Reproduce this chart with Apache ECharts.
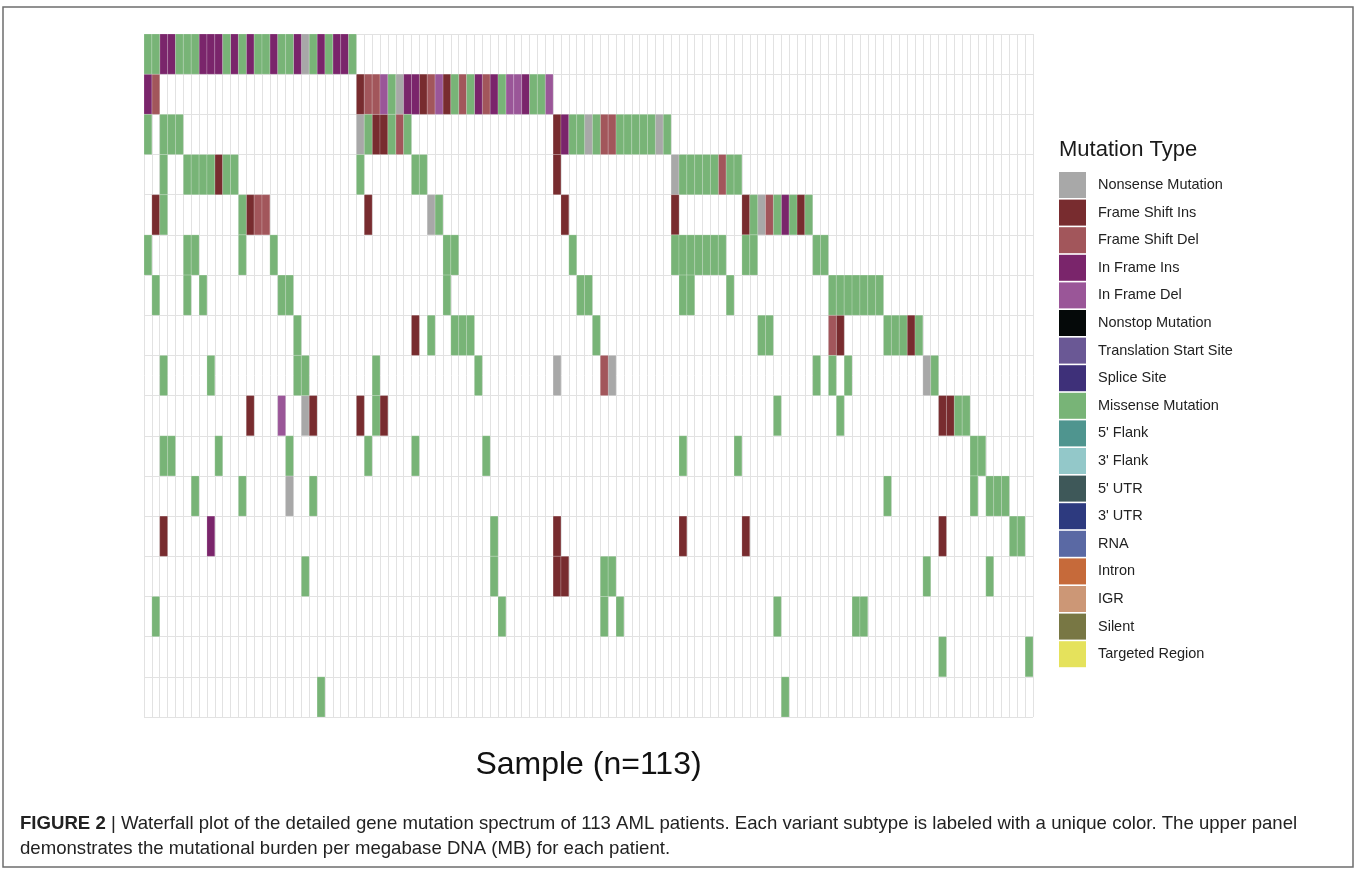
<!DOCTYPE html>
<html>
<head>
<meta charset="utf-8">
<script src="https://cdn.jsdelivr.net/npm/echarts@6/dist/echarts.min.js"></script>
<style>
html,body{margin:0;padding:0;background:#fff;}
#chart{width:1357px;height:870px;}
</style>
</head>
<body>
<div id="chart"></div>
<script>
// ---------------- DATA ----------------
const sampleCount = 113;
const sampleLabels = Array.from({length: sampleCount}, (_, i) => 'S' + (i + 1));
const geneLabels = ['G1','G2','G3','G4','G5','G6','G7','G8','G9','G10','G11','G12','G13','G14','G15','G16','G17'];

const typeNames = ['Nonsense Mutation','Frame Shift Ins','Frame Shift Del','In Frame Ins','In Frame Del',
  'Nonstop Mutation','Translation Start Site','Splice Site','Missense Mutation',"5' Flank","3' Flank",
  "5' UTR","3' UTR",'RNA','Intron','IGR','Silent','Targeted Region'];

// code letters -> mutation type
// N Nonsense, I Frame Shift Ins, D Frame Shift Del, P In Frame Ins, Q In Frame Del, M Missense
const codeToType = {N:'Nonsense Mutation', I:'Frame Shift Ins', D:'Frame Shift Del', P:'In Frame Ins', Q:'In Frame Del', M:'Missense Mutation'};

// each row: [start sample index, run of codes]
const geneRow01 = [[0,'MMPPMMMPPPMPMPMMPMMPNMPMPPM']];
const geneRow02 = [[0,'PD'],[27,'IDDQMNPPIDQIMDMPDPMQQPMMQ']];
const geneRow03 = [[0,'M'],[2,'MMM'],[27,'NMIIMDM'],[52,'IPMMNMDDMMMMMNM']];
const geneRow04 = [[2,'M'],[5,'MMMMIMM'],[27,'M'],[34,'MM'],[52,'I'],[67,'NMMMMMDMM']];
const geneRow05 = [[1,'IM'],[12,'MIDD'],[28,'I'],[36,'NM'],[53,'I'],[67,'I'],[76,'IMNDMPMIM']];
const geneRow06 = [[0,'M'],[5,'MM'],[12,'M'],[16,'M'],[38,'MM'],[54,'M'],[67,'MMMMMMM'],[76,'MM'],[85,'MM']];
const geneRow07 = [[1,'M'],[5,'M'],[7,'M'],[17,'MM'],[38,'M'],[55,'MM'],[68,'MM'],[74,'M'],[87,'MMMMMMM']];
const geneRow08 = [[19,'M'],[34,'I'],[36,'M'],[39,'MMM'],[57,'M'],[78,'MM'],[87,'DI'],[94,'MMMIM']];
const geneRow09 = [[2,'M'],[8,'M'],[19,'MM'],[29,'M'],[42,'M'],[52,'N'],[58,'DN'],[85,'M'],[87,'M'],[89,'M'],[99,'NM']];
const geneRow10 = [[13,'I'],[17,'Q'],[20,'NI'],[27,'I'],[29,'MI'],[80,'M'],[88,'M'],[101,'IIMM']];
const geneRow11 = [[2,'MM'],[9,'M'],[18,'M'],[28,'M'],[34,'M'],[43,'M'],[68,'M'],[75,'M'],[105,'MM']];
const geneRow12 = [[6,'M'],[12,'M'],[18,'N'],[21,'M'],[94,'M'],[105,'M'],[107,'MMM']];
const geneRow13 = [[2,'I'],[8,'P'],[44,'M'],[52,'I'],[68,'I'],[76,'I'],[101,'I'],[110,'MM']];
const geneRow14 = [[20,'M'],[44,'M'],[52,'II'],[58,'MM'],[99,'M'],[107,'M']];
const geneRow15 = [[1,'M'],[45,'M'],[58,'M'],[60,'M'],[80,'M'],[90,'MM']];
const geneRow16 = [[101,'M'],[112,'M']];
const geneRow17 = [[22,'M'],[81,'M']];
const geneRows = [geneRow01,geneRow02,geneRow03,geneRow04,geneRow05,geneRow06,geneRow07,geneRow08,
  geneRow09,geneRow10,geneRow11,geneRow12,geneRow13,geneRow14,geneRow15,geneRow16,geneRow17];

// ---------------- STYLES ----------------
const typeColors = {
  'Nonsense Mutation':'#A8A8A8','Frame Shift Ins':'#782C2F','Frame Shift Del':'#A2565B',
  'In Frame Ins':'#7A256B','In Frame Del':'#9A5698','Nonstop Mutation':'#050909',
  'Translation Start Site':'#6A5895','Splice Site':'#3E3079','Missense Mutation':'#78B477',
  "5' Flank":'#4F958F',"3' Flank":'#93C8C9',"5' UTR":'#3E5859',"3' UTR":'#2D3A7F',
  'RNA':'#5A69A4','Intron':'#C66A3A','IGR':'#CC9776','Silent':'#787744','Targeted Region':'#E5E25C'
};

// build per-type cell lists
const cellsByType = {};
typeNames.forEach(t => cellsByType[t] = []);
geneRows.forEach((row, r) => {
  row.forEach(([start, codes]) => {
    for (let k = 0; k < codes.length; k++) {
      cellsByType[codeToType[codes[k]]].push([start + k, r]);
    }
  });
});

function renderCell(params, api) {
  const c = api.coord([api.value(0), api.value(1)]);
  const s = api.size([1, 1]);
  return {
    type: 'rect',
    shape: {x: c[0] - s[0] / 2, y: c[1] - s[1] / 2, width: s[0], height: s[1]},
    style: {fill: api.visual('color'), stroke: 'rgba(255,255,255,0.3)', lineWidth: 0.6}
  };
}

const series = typeNames.map(t => ({
  name: t,
  type: 'custom',
  renderItem: renderCell,
  encode: {x: 0, y: 1},
  itemStyle: {color: typeColors[t]},
  data: cellsByType[t],
  silent: true
}));

const chart = echarts.init(document.getElementById('chart'), null, {renderer: 'canvas'});
chart.setOption({
  animation: false,
  backgroundColor: '#ffffff',
  textStyle: {fontFamily: 'Liberation Sans, Arial, sans-serif'},
  title: {
    text: 'Mutation Type', left: 1059, top: 139, padding: 0,
    textStyle: {fontSize: 22, fontWeight: 'normal', color: '#1a1a1a', fontFamily: 'Liberation Sans, Arial, sans-serif'}
  },
  legend: {
    orient: 'vertical', left: 1059, top: 172, padding: 0,
    itemWidth: 27, itemHeight: 26, itemGap: 1.6,
    icon: 'rect', selectedMode: false,
    data: typeNames,
    textStyle: {fontSize: 14.5, color: '#222', padding: [0, 0, 0, 7], fontFamily: 'Liberation Sans, Arial, sans-serif'}
  },
  grid: {left: 144, right: 324, top: 34, bottom: 153},
  xAxis: {
    type: 'category', data: sampleLabels, boundaryGap: true,
    name: 'Sample (n=113)', nameLocation: 'middle', nameGap: 32,
    nameTextStyle: {fontSize: 32, color: '#111', fontFamily: 'Liberation Sans, Arial, sans-serif'},
    axisLine: {show: false}, axisTick: {show: false}, axisLabel: {show: false},
    splitLine: {show: true, interval: 0, lineStyle: {color: '#e2e2e2', width: 1}}
  },
  yAxis: {
    type: 'category', data: geneLabels, inverse: true, boundaryGap: true,
    axisLine: {show: false}, axisTick: {show: false}, axisLabel: {show: false},
    splitLine: {show: true, interval: 0, lineStyle: {color: '#e2e2e2', width: 1}}
  },
  graphic: [
    {type: 'rect', silent: true, shape: {x: 3, y: 7, width: 1350, height: 860},
     style: {fill: 'none', stroke: '#6e6e6e', lineWidth: 1.5}},
    {type: 'text', left: 20, top: 814, silent: true,
     style: {
       text: '{b|FIGURE 2} {s||} Waterfall plot of the detailed gene mutation spectrum of 113 AML patients. Each variant subtype is labeled with a unique color. The upper panel',
       font: '18.6px "Liberation Sans", Arial, sans-serif', fill: '#222',
       rich: {b: {fontWeight: 'bold', fontSize: 18.6, fill: '#222'}, s: {fontSize: 18.6, fill: '#222'}}
     }},
    {type: 'text', left: 20, top: 839, silent: true,
     style: {
       text: 'demonstrates the mutational burden per megabase DNA (MB) for each patient.',
       font: '18.6px "Liberation Sans", Arial, sans-serif', fill: '#222'
     }}
  ],
  series: series
});
</script>
</body>
</html>
